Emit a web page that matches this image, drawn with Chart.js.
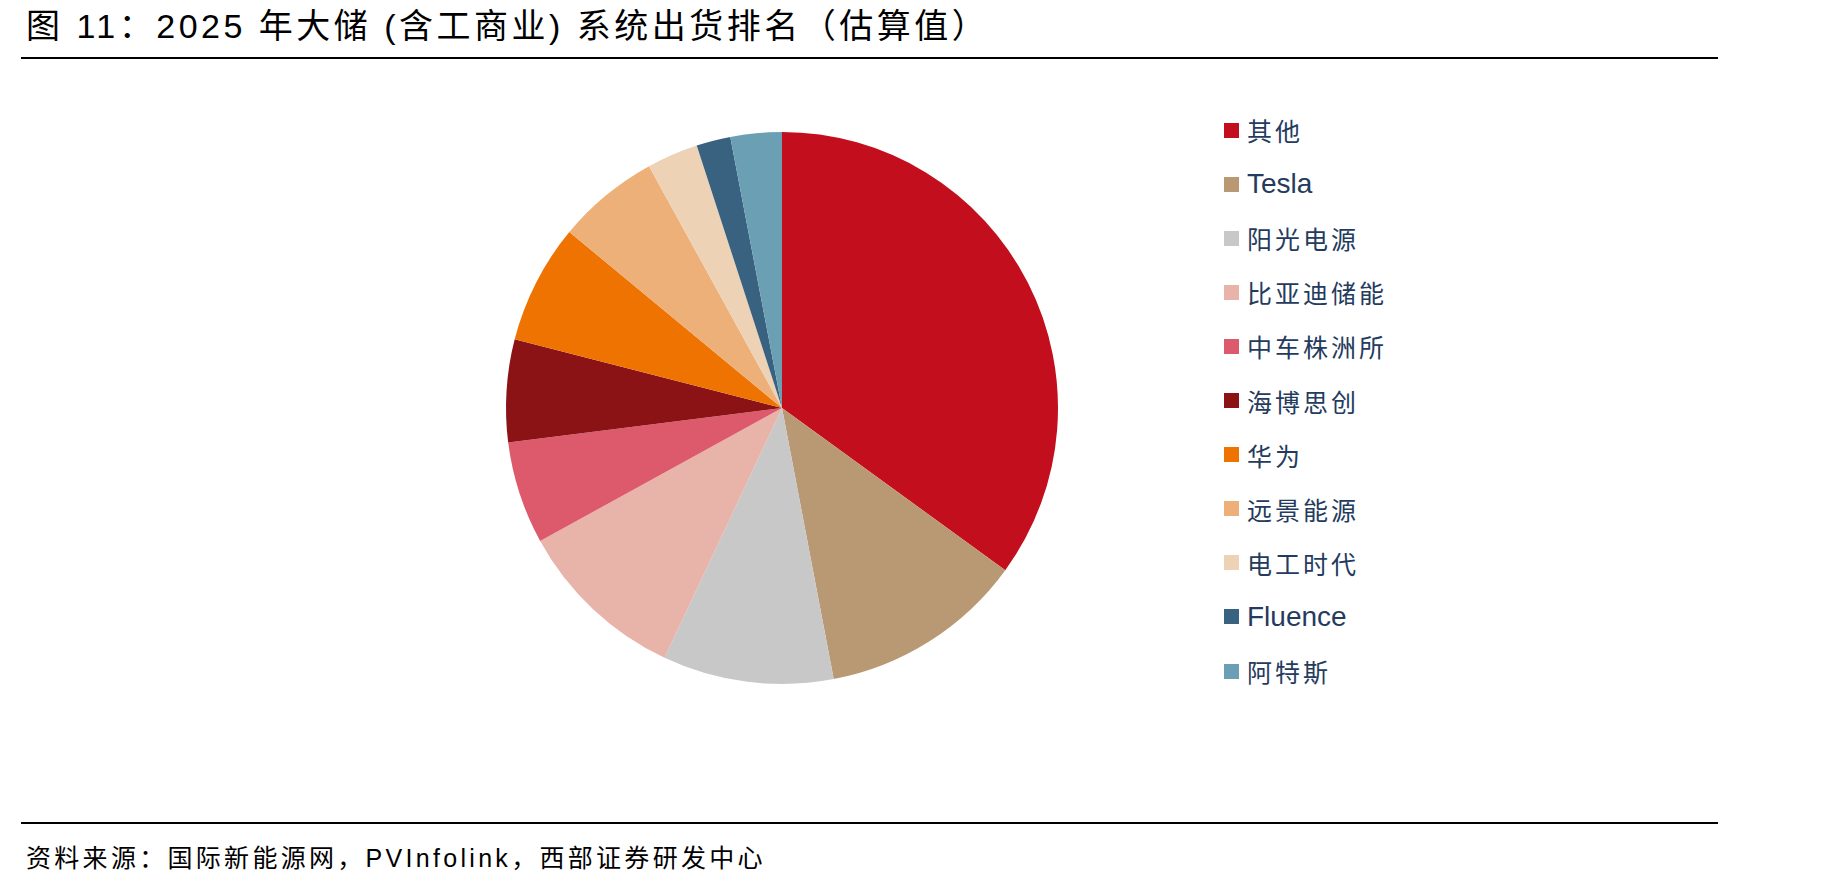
<!DOCTYPE html>
<html>
<head>
<meta charset="utf-8">
<script src="https://cdn.jsdelivr.net/npm/chart.js@4/dist/chart.umd.min.js"></script>
<style>
  body { margin: 0; background: #fff; width: 1836px; height: 889px; position: relative; overflow: hidden;
         font-family: "Liberation Sans", "Noto Sans CJK SC", sans-serif; }
  #title { position: absolute; left: 26px; top: 5px; font-size: 34px; letter-spacing: 3.5px; color: #000; white-space: nowrap; line-height: 42px; }
  .rule { position: absolute; left: 21px; width: 1697px; height: 2px; background: #000; }
  #source { position: absolute; left: 26px; top: 842px; font-size: 25px; letter-spacing: 3.3px; color: #000; white-space: nowrap; line-height: 32px; }
  #pie { position: absolute; left: 496px; top: 122px; }
  #legend { position: absolute; left: 1224px; top: 0; }
  .item { position: absolute; left: 0; height: 30px; display: flex; align-items: center; white-space: nowrap; color: #243B5E; }
  .box { width: 15px; height: 15px; margin-right: 8px; flex: none; }
  .lbl-cn { font-size: 25px; letter-spacing: 3px; }
  .lbl-en { font-size: 28px; }
</style>
</head>
<body>
<div id="title">图 11：2025 年大储 (含工商业) 系统出货排名（估算值）</div>
<div class="rule" style="top:57px"></div>
<canvas id="pie" width="572" height="572"></canvas>
<div id="legend"></div>
<div class="rule" style="top:822px"></div>
<div id="source">资料来源：国际新能源网，PVInfolink，西部证券研发中心</div>
<script>
// 2025 年大储系统出货份额 (%)
const companies = ['其他', 'Tesla', '阳光电源', '比亚迪储能', '中车株洲所', '海博思创', '华为', '远景能源', '电工时代', 'Fluence', '阿特斯'];
const shares = [35, 12, 10, 10, 6, 6, 7, 6, 3, 2, 3];
const colors = ['#C30F1D', '#B99874', '#C8C8C8', '#E8B3A8', '#DC5A6B', '#8B1316', '#EE7300', '#EEB079', '#EDD2B5', '#386280', '#6B9FB3'];

// ----- Légende HTML à droite -----
const legend = document.getElementById('legend');
companies.forEach(function (name, i) {
    const row = document.createElement('div');
    row.className = 'item';
    row.style.top = (130 + i * 54.1 - 15) + 'px';
    const isLatin = /^[A-Za-z]+$/.test(name);
    row.innerHTML = '<span class="box" style="background:' + colors[i] + '"></span>' +
        '<span class="' + (isLatin ? 'lbl-en' : 'lbl-cn') + '">' + name + '</span>';
    legend.appendChild(row);
});

// ----- Camembert -----
new Chart(document.getElementById('pie'), {
    type: 'pie',
    data: {
        labels: companies,
        datasets: [{
            data: shares,
            backgroundColor: colors,
            borderWidth: 0
        }]
    },
    options: {
        responsive: false,
        animation: false,
        layout: { padding: 10 },
        plugins: {
            legend: { display: false },
            tooltip: { enabled: false }
        }
    }
});
</script>
</body>
</html>
